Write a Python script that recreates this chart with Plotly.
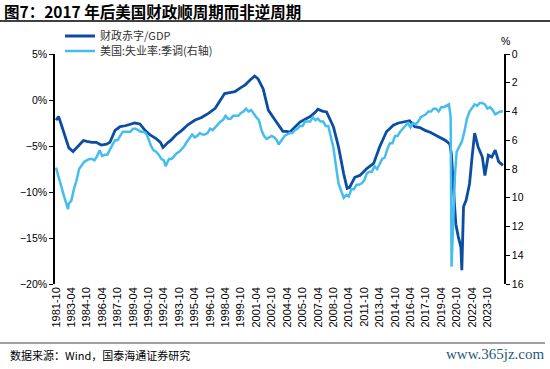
import plotly.graph_objects as go

# ---------------- data ----------------
deficit_months = [
    "1981-10", "1982-01", "1982-04", "1982-07", "1982-10", "1983-01", "1983-06", "1983-10",
    "1984-01", "1984-06", "1984-10", "1985-04", "1985-09", "1986-03", "1986-09", "1987-01",
    "1987-07", "1988-01", "1988-07", "1988-12", "1989-06", "1989-12", "1990-06", "1990-12",
    "1991-07", "1991-12", "1992-03", "1992-09", "1992-12", "1993-06", "1994-01", "1994-08",
    "1995-04", "1995-12", "1996-08", "1997-04", "1997-10", "1998-03", "1998-09", "1999-03",
    "1999-09", "2000-03", "2000-09", "2001-02", "2001-06", "2001-12", "2002-06", "2002-10",
    "2003-02", "2003-11", "2004-03", "2004-07", "2005-01", "2005-07", "2006-01", "2006-07",
    "2006-12", "2007-04", "2007-09", "2008-02", "2008-10", "2009-04", "2009-10", "2010-02",
    "2010-05", "2010-11", "2011-05", "2012-01", "2012-09", "2013-04", "2013-12", "2014-08",
    "2015-02", "2015-08", "2016-03", "2016-09", "2017-03", "2017-09", "2018-03", "2018-09",
    "2019-03", "2019-09", "2020-02", "2020-04", "2020-06", "2020-09", "2020-12", "2021-03",
    "2021-04", "2021-06", "2021-09", "2022-01", "2022-04", "2022-07", "2022-11", "2023-04",
    "2023-07", "2023-11", "2024-03", "2024-07", "2024-11", "2025-04",
]
deficit_pct = [
    -2.2, -1.8, -2.6, -3.5, -4.4, -5.2, -5.6, -5.2,
    -4.8, -4.4, -4.5, -4.6, -4.6, -4.9, -4.8, -4.6,
    -3.3, -2.9, -2.8, -2.7, -2.5, -2.6, -3.3, -3.8,
    -4.2, -4.6, -5.15, -4.6, -4.4, -3.8, -3.3, -2.7,
    -2.2, -1.9, -1.45, -0.9, -0.1, 0.7, 0.8, 0.9,
    1.3, 1.65, 2.2, 2.6, 2.3, 1.2, -1.1, -1.7,
    -2.2, -3.4, -3.4, -3.5, -3.0, -2.4, -2.1, -1.8,
    -1.4, -1.0, -1.2, -1.3, -2.9, -5.1, -8.0, -9.6,
    -9.5, -8.4, -8.2, -7.45, -6.9, -5.1, -3.45, -2.75,
    -2.5, -2.4, -2.25, -2.9, -3.0, -3.3, -3.5, -3.8,
    -4.1, -4.4, -4.8, -6.0, -9.3, -13.5, -14.9, -16.0,
    -18.5, -11.6, -10.9, -9.1, -6.2, -3.6, -5.1, -6.2,
    -8.2, -6.0, -6.2, -5.45, -6.7, -7.1,
]

unemp_months = [
    "1981-10", "1982-01", "1982-04", "1982-07", "1982-10", "1982-12",
    "1983-01", "1983-04", "1983-07", "1983-10", "1984-01", "1984-04", "1984-07", "1984-10",
    "1985-01", "1985-04", "1985-07", "1985-10", "1986-01", "1986-04", "1986-07", "1986-10",
    "1987-01", "1987-04", "1987-07", "1987-10", "1988-01", "1988-04", "1988-07", "1988-10",
    "1989-01", "1989-04", "1989-07", "1989-10", "1990-01", "1990-04", "1990-07", "1990-10",
    "1991-01", "1991-04", "1991-07", "1991-10", "1992-01", "1992-04", "1992-06", "1992-10",
    "1993-01", "1993-04", "1993-07", "1993-10", "1994-01", "1994-04", "1994-07", "1994-10",
    "1995-01", "1995-04", "1995-07", "1995-10", "1996-01", "1996-04", "1996-07", "1996-10",
    "1997-01", "1997-04", "1997-07", "1997-10", "1998-01", "1998-04", "1998-07", "1998-10",
    "1999-01", "1999-04", "1999-07", "1999-10", "2000-01", "2000-04", "2000-07", "2000-10",
    "2001-01", "2001-04", "2001-07", "2001-10", "2002-01", "2002-04", "2002-07", "2002-10",
    "2003-01", "2003-04", "2003-06", "2003-10", "2004-01", "2004-04", "2004-07", "2004-10",
    "2005-01", "2005-04", "2005-07", "2005-10", "2006-01", "2006-04", "2006-07", "2006-10",
    "2007-01", "2007-04", "2007-07", "2007-10", "2008-01", "2008-04", "2008-07", "2008-10",
    "2009-01", "2009-04", "2009-07", "2009-10", "2010-01", "2010-04", "2010-07", "2010-10",
    "2011-01", "2011-04", "2011-07", "2011-10", "2012-01", "2012-04", "2012-07", "2012-10",
    "2013-01", "2013-04", "2013-07", "2013-10", "2014-01", "2014-04", "2014-07", "2014-10",
    "2015-01", "2015-04", "2015-07", "2015-10", "2016-01", "2016-04", "2016-07", "2016-10",
    "2017-01", "2017-04", "2017-07", "2017-10", "2018-01", "2018-04", "2018-07", "2018-10",
    "2019-01", "2019-04", "2019-07", "2019-10", "2020-01", "2020-03", "2020-04", "2020-05",
    "2020-06", "2020-07", "2020-08", "2020-10", "2021-01", "2021-04", "2021-07", "2021-10",
    "2022-01", "2022-04", "2022-07", "2022-10", "2023-01", "2023-04", "2023-07", "2023-10",
    "2024-01", "2024-04", "2024-07", "2024-10", "2025-01", "2025-04",
]
unemp_rate = [
    7.9, 8.6, 9.3, 9.8, 10.4, 10.8,
    10.4, 10.2, 9.4, 8.8, 8.0, 7.7, 7.5, 7.4,
    7.3, 7.3, 7.4, 7.1, 6.7, 7.1, 7.0, 7.0,
    6.6, 6.3, 6.0, 6.0, 5.7, 5.4, 5.4, 5.4,
    5.4, 5.2, 5.2, 5.3, 5.4, 5.4, 5.5, 5.9,
    6.4, 6.7, 6.8, 7.0, 7.3, 7.4, 7.8, 7.3,
    7.3, 7.1, 6.9, 6.8, 6.6, 6.4, 6.1, 5.8,
    5.6, 5.8, 5.7, 5.5, 5.6, 5.6, 5.5, 5.2,
    5.3, 5.1, 4.9, 4.7, 4.6, 4.3, 4.5, 4.5,
    4.3, 4.3, 4.3, 4.1, 4.0, 3.8, 4.0, 3.9,
    4.2, 4.4, 4.6, 5.3, 5.7, 5.9, 5.8, 5.7,
    5.8, 6.0, 6.3, 6.0, 5.7, 5.6, 5.5, 5.5,
    5.3, 5.2, 5.0, 5.0, 4.7, 4.7, 4.7, 4.4,
    4.6, 4.5, 4.7, 4.7, 5.0, 5.0, 5.8, 6.5,
    7.8, 9.0, 9.5, 10.0, 9.8, 9.9, 9.4, 9.4,
    9.1, 9.1, 9.0, 8.8, 8.3, 8.2, 8.2, 7.8,
    8.0, 7.6, 7.3, 7.2, 6.6, 6.2, 6.2, 5.7,
    5.7, 5.4, 5.2, 5.0, 4.8, 5.1, 4.8, 4.9,
    4.7, 4.4, 4.3, 4.2, 4.0, 4.0, 3.8, 3.8,
    4.0, 3.7, 3.7, 3.6, 3.5, 4.4, 14.8, 13.2,
    11.0, 10.2, 8.4, 6.8, 6.4, 6.1, 5.4, 4.5,
    4.0, 3.7, 3.5, 3.6, 3.4, 3.4, 3.5, 3.8,
    3.7, 3.9, 4.2, 4.1, 4.0, 4.0,
]

tick_labels = [
    "1981-10", "1983-04", "1984-10", "1986-04", "1987-10", "1989-04", "1990-10",
    "1992-04", "1993-10", "1995-04", "1996-10", "1998-04", "1999-10", "2001-04",
    "2002-10", "2004-04", "2005-10", "2007-04", "2008-10", "2010-04", "2011-10",
    "2013-04", "2014-10", "2016-04", "2017-10", "2019-04", "2020-10", "2022-04",
    "2023-10",
]

series_names = ["财政赤字/GDP", "美国:失业率:季调(右轴)"]
title_text = "图7：2017 年后美国财政顺周期而非逆周期"
source_text = "数据来源：Wind，国泰海通证券研究"
watermark_text = "www.365jz.com"

# ---------------- layout helpers ----------------
W, H = 550, 369
L, R, T, B = 55, 46, 54, 85
PW, PH = W - L - R, H - T - B


def xp(px):
    return (px - L) / PW


def yp(py):
    return (H - B - py) / PH


DARK = "#0B4DA2"
LIGHT = "#45BDEE"
YFONT = dict(family="Liberation Sans, Arial, sans-serif", size=10.5, color="#000000")
XFONT = dict(family="Liberation Sans, Arial, sans-serif", size=11, color="#000000")
LEGFONT = dict(family="Noto Sans CJK SC, sans-serif", size=11, color="#333333")
XRANGE = ["1981-08-27", "2025-05-10"]

to_date = lambda m: m + "-01"
tickvals = [to_date(m) for m in tick_labels]

fig = go.Figure()
fig.add_trace(go.Scatter(
    x=[to_date(m) for m in deficit_months], y=deficit_pct, name=series_names[0],
    mode="lines", line=dict(color=DARK, width=2.8), yaxis="y", legend="legend",
))
fig.add_trace(go.Scatter(
    x=[to_date(m) for m in unemp_months], y=unemp_rate, name=series_names[1],
    mode="lines", line=dict(color=LIGHT, width=2.5), yaxis="y2", legend="legend2",
))

leg_common = dict(
    xref="container", yref="container", xanchor="left", yanchor="middle",
    bgcolor="rgba(0,0,0,0)", itemwidth=30, font=LEGFONT,
)
fig.update_layout(
    width=W, height=H,
    margin=dict(l=L, r=R, t=T, b=B, pad=0, autoexpand=False),
    paper_bgcolor="white", plot_bgcolor="white",
    showlegend=True,
    legend=dict(x=60 / W, y=1 - 36 / H, **leg_common),
    legend2=dict(x=60 / W, y=1 - 51 / H, **leg_common),
    xaxis=dict(
        type="date", range=XRANGE, tickmode="array", tickvals=tickvals, ticktext=tick_labels,
        tickangle=-90, showgrid=False, zeroline=False, automargin=False,
        showline=False, ticks="", tickfont=XFONT,
    ),
    xaxis2=dict(
        type="date", range=XRANGE, tickmode="array", tickvals=tickvals,
        overlaying="x", anchor="free", position=yp(100), side="bottom",
        showline=True, linecolor="#000000", linewidth=1.5, automargin=False,
        ticks="outside", ticklen=4, tickcolor="#000000", tickwidth=1,
        showticklabels=False, showgrid=False, zeroline=False,
    ),
    yaxis=dict(
        range=[-20, 5], dtick=5, ticksuffix="%", showgrid=False, zeroline=False,
        showline=True, linecolor="#000000", linewidth=1.5, automargin=False,
        ticks="outside", ticklen=4, tickcolor="#000000", tickfont=YFONT,
    ),
    yaxis2=dict(
        range=[16, 0], dtick=2, overlaying="y", side="right", anchor="x",
        showgrid=False, zeroline=False, automargin=False,
        showline=True, linecolor="#000000", linewidth=1.5,
        ticks="outside", ticklen=4, tickcolor="#000000", tickfont=YFONT,
    ),
)

annotations = [
    dict(text="<b>" + title_text + "</b>", x=xp(2), y=yp(11), xref="paper", yref="paper",
         xanchor="left", yanchor="middle", showarrow=False,
         font=dict(family="Noto Sans CJK SC, sans-serif", size=15.5, color="#000000")),
    dict(text="%", x=xp(505), y=yp(41), xref="paper", yref="paper",
         xanchor="center", yanchor="middle", showarrow=False, font=YFONT),
    dict(text=source_text, x=xp(8), y=yp(355), xref="paper", yref="paper",
         xanchor="left", yanchor="middle", showarrow=False,
         font=dict(family="Noto Sans CJK SC, sans-serif", size=11, color="#000000")),
    dict(text=watermark_text, x=xp(547), y=yp(354), xref="paper", yref="paper",
         xanchor="right", yanchor="middle", showarrow=False,
         font=dict(family="Liberation Serif, serif", size=15, color="#1F5A78")),
]
fig.update_layout(annotations=annotations)

shapes = [
    dict(type="line", xref="paper", yref="paper", x0=xp(0), x1=xp(550), y0=yp(21), y1=yp(21),
         line=dict(color="#404040", width=2)),
    dict(type="line", xref="paper", yref="paper", x0=xp(0), x1=xp(545), y0=yp(343), y1=yp(343),
         line=dict(color="#808080", width=1.5)),
]
fig.update_layout(shapes=shapes)

fig.write_html(
    "out.html",
    config={"displayModeBar": False},
    post_script="document.body.style.margin='0';document.body.style.padding='0';"
                "document.body.style.overflow='hidden';",
)
